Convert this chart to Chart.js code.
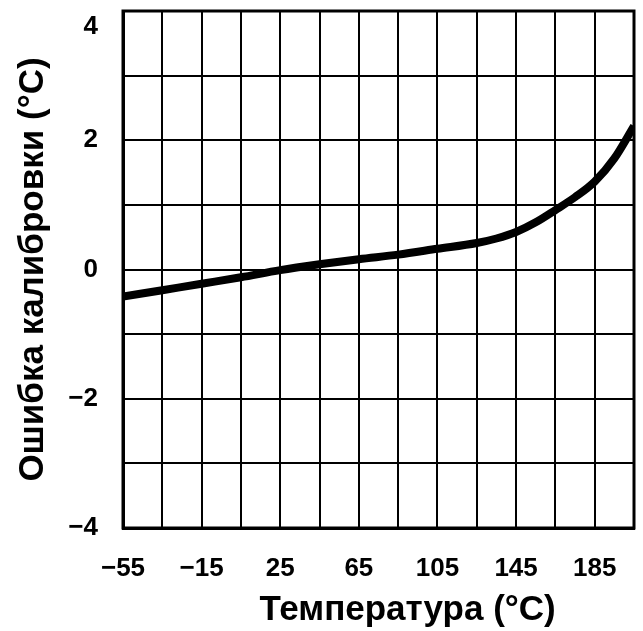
<!DOCTYPE html>
<html><head><meta charset="utf-8">
<script src="https://cdn.jsdelivr.net/npm/chart.js@4"></script>
<style>html,body{margin:0;padding:0;background:#fff}#w{width:643px;height:631px}</style>
</head><body><div id="w"><canvas id="c"></canvas></div>
<script>
const temps = [-55, -35, -15, 5, 25, 45, 65, 85, 105, 125, 135, 145, 155, 165, 175, 185, 195, 205];
const errors = [-0.42, -0.32, -0.22, -0.12, -0.01, 0.08, 0.16, 0.23, 0.32, 0.41, 0.48, 0.58, 0.73, 0.92, 1.12, 1.36, 1.72, 2.22];
const xTicks = [-55, -35, -15, 5, 25, 45, 65, 85, 105, 125, 145, 165, 185, 205];
const xLabels = [-55, -15, 25, 65, 105, 145, 185];
const yTicks = [-4, -3, -2, -1, 0, 1, 2, 3, 4];
const yLabels = [-4, -2, 0, 2, 4];
const xTitle = 'Температура (°C)';
const yTitle = 'Ошибка калибровки (°C)';
const fmt = v => (v < 0 ? '\u2212' + Math.abs(v) : String(v));
const tickFont = {family: '"Liberation Sans", Arial, sans-serif', size: 26, weight: 'bold'};
const titleFont = {family: '"Liberation Sans", Arial, sans-serif', size: 35, weight: 'bold'};
new Chart(document.getElementById('c'), {
  type: 'line',
  data: {datasets: [{data: temps.map((t, i) => ({x: t, y: errors[i]})), borderColor: '#000', borderWidth: 8, pointRadius: 0, cubicInterpolationMode: 'monotone', borderCapStyle: 'butt'}]},
  options: {
    responsive: true, maintainAspectRatio: false, animation: false,
    layout: {padding: {top: 11, right: 9, left: 0, bottom: 0}},
    plugins: {legend: {display: false}, tooltip: {enabled: false}},
    scales: {
      x: {
        type: 'linear', min: -55, max: 205,
        afterBuildTicks: s => { s.ticks = xTicks.map(v => ({value: v})); },
        afterFit: s => { s.height = 103; s.paddingLeft = 0; s.paddingRight = 0; },
        ticks: {color: '#000', font: tickFont, padding: 25, maxRotation: 0, autoSkip: false,
          callback: v => xLabels.includes(v) ? fmt(v) : ''},
        grid: {color: '#000', lineWidth: 2, drawTicks: false},
        border: {color: '#000', width: 3},
        title: {display: true, text: '\u00a0\u00a0\u00a0\u00a0\u00a0\u00a0' + xTitle, color: '#000', font: titleFont, padding: {top: 0, bottom: 0}}
      },
      y: {
        min: -4, max: 4,
        afterBuildTicks: s => { s.ticks = yTicks.map(v => ({value: v})); },
        afterFit: s => { s.width = 123; s.paddingTop = 0; s.paddingBottom = 0; },
        ticks: {color: '#000', font: tickFont, padding: 25, autoSkip: false,
          callback: v => !yLabels.includes(v) ? '' : (v === 4 ? ['', fmt(v)] : fmt(v))},
        grid: {color: '#000', lineWidth: 2, drawTicks: false},
        border: {color: '#000', width: 3},
        title: {display: true, text: yTitle, color: '#000', font: titleFont, padding: {top: 12, bottom: 0}}
      }
    }
  },
  plugins: [{id: 'frame', afterDraw(c) {
    const {ctx, chartArea: a} = c;
    ctx.save(); ctx.strokeStyle = '#000'; ctx.lineWidth = 3;
    ctx.strokeRect(a.left, a.top, a.right - a.left, a.bottom - a.top); ctx.restore();
  }}]
});
</script></body></html>
